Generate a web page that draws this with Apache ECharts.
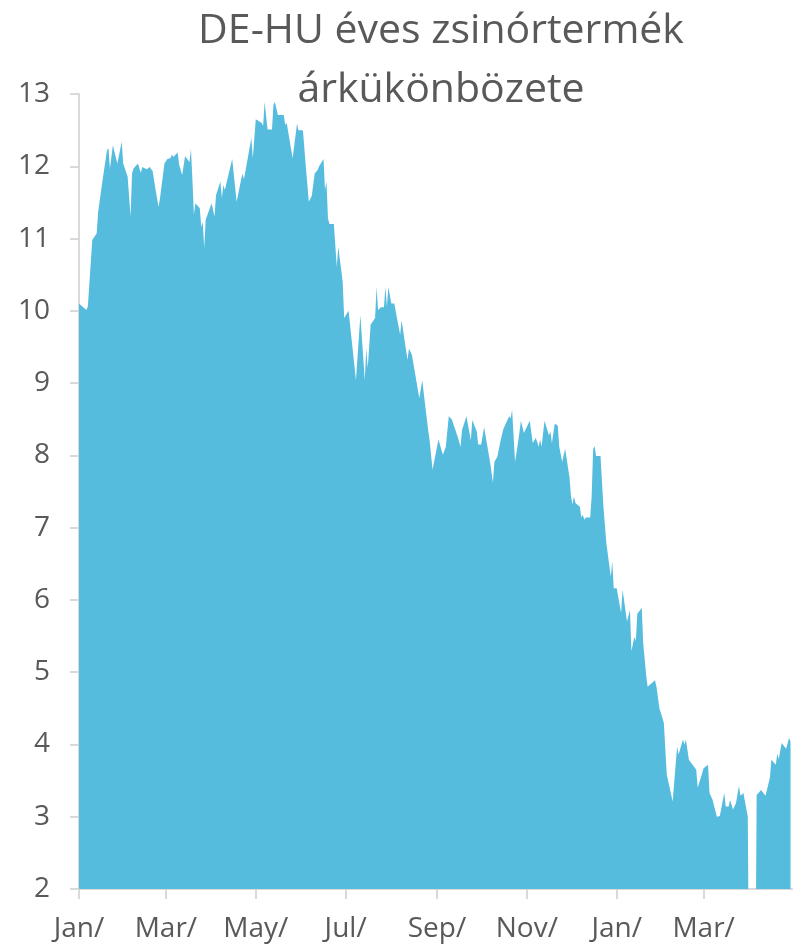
<!DOCTYPE html>
<html>
<head>
<meta charset="utf-8">
<script src="https://cdn.jsdelivr.net/npm/echarts@6/dist/echarts.min.js"></script>
<style>
  html, body { margin: 0; padding: 0; background: #fff; }
  #chart { width: 796px; height: 948px; }
</style>
</head>
<body>
<div id="chart"></div>
<script>
// nap (1. jan-tól számítva) és érték párok
const days = [
  0, 1, 5, 6, 9, 12, 13, 16, 19, 20, 21, 23, 26, 27, 29, 30, 33, 34, 35, 36, 37, 40, 42, 43, 46, 47, 48, 50,
  52, 54, 55, 58, 60, 62, 63, 64, 65, 67, 68, 70, 72, 75, 76, 77, 78, 79, 82, 83, 84, 85, 86, 90, 92, 93,
  96, 97, 98, 99, 104, 105, 107, 110, 111, 112, 117, 118, 120, 124, 125, 126, 128, 131, 132, 133, 135, 139,
  140, 141, 145, 148, 149, 152, 154, 156, 158, 160, 162, 163, 166, 167, 168, 169, 170, 173, 175, 176, 179,
  180, 183, 184, 188, 191, 194, 195, 196, 198, 201, 202, 203, 205, 207, 208, 209, 210, 212, 214, 218, 219,
  223, 224, 226, 231, 233, 237, 238, 240, 244, 247, 249, 251, 253, 257, 258, 259, 260, 263, 266, 267, 270,
  271, 273, 275, 277, 279, 280, 281, 282, 284, 286, 287, 288, 292, 293, 294, 296, 298, 300, 302, 303, 306,
  308, 310, 311, 312, 313, 314, 316, 319, 320, 321, 323, 325, 326, 328, 330, 333, 334, 335, 336, 337, 340,
  341, 342, 343, 344, 347, 348, 349, 350, 351, 354, 356, 357, 358, 361, 362, 363, 365, 368, 369, 370, 372,
  374, 375, 377, 378, 379, 382, 383, 385, 386, 391, 392, 394, 397, 399, 403, 406, 407, 410, 411, 412, 414,
  419, 420, 424, 425, 427, 428, 430, 433, 435, 438, 439, 441, 442, 444, 446, 448, 449, 451, 454, 455, 459,
  460, 463, 466, 469, 470, 473, 474, 475, 477, 480, 482, 483
];
const values = [
  10.10, 10.10, 10.01, 10.06, 10.98, 11.07, 11.37, 11.81, 12.22, 12.25, 11.97, 12.29, 12.04, 12.02, 12.34,
  12.04, 11.86, 11.85, 11.30, 11.90, 11.97, 12.04, 11.91, 11.99, 11.96, 11.94, 11.99, 11.93,
  11.67, 11.44, 11.56, 12.04, 12.10, 12.11, 12.16, 12.13, 12.14, 12.19, 12.02, 11.88, 12.14, 12.06, 12.24,
  11.81, 11.33, 11.49, 11.42, 11.16, 11.23, 10.87, 11.26, 11.49, 11.30, 11.60,
  11.79, 11.56, 11.74, 11.67, 12.10, 12.10, 11.51, 11.81, 11.90, 11.82, 12.39, 12.11, 12.65, 12.60, 12.56,
  12.89, 12.51, 12.51, 12.85, 12.89, 12.71, 12.71,
  12.57, 12.60, 12.11, 12.59, 12.50, 12.50, 11.99, 11.51, 11.59, 11.90, 11.95, 12.00, 12.10, 11.67, 11.79,
  11.28, 11.20, 11.20, 10.61, 10.89, 10.40,
  9.90, 10.00, 9.99, 9.04, 9.94, 9.04, 9.48, 9.21, 9.81, 9.90, 10.33, 10.01, 10.05, 10.05, 10.33, 10.06,
  10.33, 10.10, 10.10, 9.67, 9.87,
  9.32, 9.48, 9.39, 8.79, 9.04, 8.35, 8.21, 7.80, 8.22, 8.01, 8.12, 8.54, 8.50, 8.26, 8.28, 8.12, 8.35,
  8.54, 8.21, 8.49, 8.33,
  8.15, 8.15, 8.39, 8.15, 7.91, 7.90, 7.62, 7.91, 7.98, 8.19, 8.19, 8.36, 8.54, 8.51, 8.63, 7.91, 8.17,
  8.48, 8.31, 8.31, 8.48,
  8.17, 8.24, 8.19, 8.12, 8.22, 8.12, 8.48, 8.28, 8.33, 8.17, 8.44, 8.41, 8.12, 7.91, 8.09, 7.69, 7.43,
  7.32, 7.43, 7.34, 7.29,
  7.14, 7.18, 7.11, 7.14, 7.14, 7.43, 8.08, 8.13, 7.99, 7.99, 7.29, 7.28, 6.78, 6.32, 6.53, 6.16, 6.16,
  5.82, 6.14, 6.12, 5.70,
  5.86, 5.29, 5.49, 5.43, 5.81, 5.89, 5.40, 4.96, 4.80, 4.89, 4.80, 4.50, 4.30, 3.58, 3.21, 3.97, 3.86,
  4.07, 4.00, 4.07, 3.79,
  3.65, 3.40, 3.67, 3.65, 3.72, 3.33, 3.24, 3.00, 3.01, 3.33, 3.14, 3.14, 3.23, 3.10, 3.19, 3.43, 3.29,
  3.33, 3.00, 0, 0,
  3.30, 3.37, 3.29, 3.54, 3.79, 3.72, 3.87, 3.80, 4.02, 3.94, 4.09, 4.04
];
// tengelyfeliratok: hónapkezdetek (nap sorszáma) és nevük
const tickDays = [0, 59, 120, 181, 243, 304, 365, 424];
const tickLabels = ['Jan/', 'Mar/', 'May/', 'Jul/', 'Sep/', 'Nov/', 'Jan/', 'Mar/'];

const chart = echarts.init(document.getElementById('chart'));
const textColor = '#595959';
const axisColor = '#d9d9d9';

const option = {
  animation: false,
  title: {
    text: 'DE-HU éves zsinórtermék\nárkükönbözete',
    left: 436,
    top: -3,
    textAlign: 'center',
    textStyle: {
      fontFamily: 'Open Sans',
      fontWeight: 'normal',
      fontSize: 41,
      lineHeight: 59,
      color: textColor
    }
  },
  grid: { left: 79, right: 4, top: 94, bottom: 59 },
  xAxis: {
    type: 'value',
    min: 0,
    max: 484,
    axisLine: { show: true, onZero: false, lineStyle: { color: axisColor, width: 2 } },
    axisTick: { show: true, length: 10, customValues: tickDays, lineStyle: { color: axisColor, width: 2 } },
    axisLabel: {
      customValues: tickDays,
      formatter: (v) => tickLabels[tickDays.indexOf(v)] || '',
      margin: 26,
      color: textColor,
      fontFamily: 'Open Sans',
      fontSize: 28
    },
    splitLine: { show: false }
  },
  yAxis: {
    type: 'value',
    min: 2,
    max: 13,
    interval: 1,
    axisLine: { show: true, lineStyle: { color: axisColor, width: 2 } },
    axisTick: { show: true, length: 9, lineStyle: { color: axisColor, width: 2 } },
    axisLabel: {
      margin: 29,
      color: textColor,
      fontFamily: 'Open Sans',
      fontSize: 28
    },
    splitLine: { show: false }
  },
  series: [{
    type: 'line',
    data: days.map((d, i) => [d, values[i]]),
    showSymbol: false,
    symbol: 'none',
    clip: true,
    lineStyle: { width: 0 },
    areaStyle: { color: '#56bcde', opacity: 1, origin: 'start' }
  }]
};
chart.setOption(option);
</script>
</body>
</html>
